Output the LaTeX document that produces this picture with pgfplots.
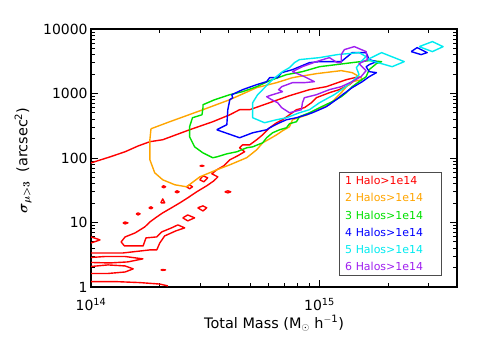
\documentclass[border=0pt]{standalone}
\usepackage{fontspec}
\setmainfont{DejaVu Sans}
\usepackage{amsmath}
\usepackage{pgfplots}
\pgfplotsset{compat=1.18}

\definecolor{cRed}{RGB}{255,0,0}
\definecolor{cOrange}{RGB}{255,165,0}
\definecolor{cGreen}{RGB}{0,225,0}
\definecolor{cBlue}{RGB}{0,0,255}
\definecolor{cCyan}{RGB}{0,235,240}
\definecolor{cPurple}{RGB}{160,32,240}

\begin{document}
\begin{tikzpicture}
\useasboundingbox (-91bp,-59bp) rectangle (394bp,287bp);
\begin{axis}[
  at={(0,0)}, anchor=south west,
  scale only axis, width=366bp, height=258bp,
  xmode=log, ymode=log,
  xmin=1e14, xmax=4e15, ymin=1, ymax=10000,
  xtick={1e14,1e15}, xticklabels={10\textsuperscript{14},10\textsuperscript{15}},
  minor xtick={2e14,3e14,4e14,5e14,6e14,7e14,8e14,9e14,2e15,3e15},
  ytick={1,10,100,1000,10000}, yticklabels={1,10,100,1000,10000},
  minor ytick={2,3,4,5,6,7,8,9,20,30,40,50,60,70,80,90,200,300,400,500,600,700,800,900,2000,3000,4000,5000,6000,7000,8000,9000},
  major tick length=7bp, minor tick length=4bp,
  tick style={black, line width=0.9pt},
  axis line style={line width=1.5pt},
  ticklabel style={font=\fontsize{14}{16}\selectfont},
  xticklabel style={yshift=-8bp},
  xlabel={Total Mass (M\textsubscript{$\odot$} h\textsuperscript{$-$1})},
  ylabel={$\boldsymbol{\sigma_{\mu>3}}$\ \ (arcsec\textsuperscript{2})},
  label style={font=\fontsize{14.5}{17}\selectfont},
  xlabel style={at={(axis description cs:0.5,0)}, anchor=base, yshift=-41bp},
  ylabel style={at={(axis description cs:0,0.49)}, anchor=center, yshift=68bp},
  every axis plot/.append style={line width=1.4pt, mark=none, line join=round},
]
% ---- 1 halo (red): main contour with the narrow band below it
\addplot[cRed] coordinates {
(1e14,84) (1.21e14,104) (1.41e14,125) (1.61e14,154) (1.81e14,179) (2.06e14,192) (2.70e14,274)
(3.41e14,365) (4.05e14,468) (4.47e14,561) (4.95e14,561) (6.05e14,720) (7.39e14,924) (9.04e14,1147)
(1.071e15,1276) (1.311e15,1639) (1.49e15,1825)
(1.35e15,1371) (1.22e15,1147) (1.105e15,1029) (9.69e14,861) (9.22e14,720) (8.59e14,603) (7.93e14,561)
(7.39e14,468) (6.89e14,392) (6.49e14,352) (6.05e14,294) (5.64e14,229) (5.31e14,192) (4.95e14,160)
(4.61e14,160) (4.47e14,144) (4.70e14,125) (4.38e14,108) (4.05e14,93.8) (3.81e14,75.6) (3.55e14,65.6)
(3.38e14,56.9) (3.59e14,50.9) (3.45e14,44.3) (3.21e14,37.1) (2.90e14,29.9) (2.65e14,24.1) (2.45e14,20.2)
(2.25e14,16.9) (2.06e14,14.1) (1.94e14,12.2) (1.81e14,10.2) (1.72e14,8.55) (1.56e14,6.90) (1.41e14,5.98)
(1.354e14,5.0) (1.40e14,4.33) (1.56e14,4.33) (1.69e14,4.33) (1.74e14,5.77) (1.94e14,5.98) (2.04e14,7.15)
(2.25e14,8.25) (2.40e14,9.18) (2.57e14,8.25) (2.35e14,7.41) (2.10e14,6.19) (2.0e14,4.82) (1.94e14,3.76)
(1.81e14,3.76) (1.38e14,3.37) (1e14,3.37)
};
% small red pieces near the left edge
\addplot[cRed] coordinates {(1e14,5.98) (1.062e14,5.57) (1.095e14,5.37) (1.031e14,5.0) (1e14,4.82)};
\addplot[cRed] coordinates {(1e14,2.87) (1.151e14,2.97) (1.41e14,2.97) (1.686e14,2.73) (1.45e14,2.45) (1.21e14,2.36) (1e14,2.40)};
\addplot[cRed] coordinates {(1e14,2.08) (1.186e14,2.20) (1.41e14,2.12) (1.53e14,1.91) (1.41e14,1.71) (1.186e14,1.62) (1e14,1.62)};
\addplot[cRed] coordinates {(1e14,1.21) (1.30e14,1.21) (1.64e14,1.17) (2.0e14,1.11) (2.17e14,1.04)};
% red islands
\addplot[cRed] coordinates {(2.99e14,45.9) (3.09e14,53) (3.24e14,49.3) (3.12e14,42.7) (2.99e14,45.9)};
\addplot[cRed] coordinates {(2.52e14,11.8) (2.65e14,13.1) (2.84e14,11.8) (2.65e14,10.6) (2.52e14,11.8)};
\addplot[cRed] coordinates {(2.93e14,16.9) (3.09e14,18.1) (3.21e14,16.9) (3.09e14,15.1) (2.93e14,16.9)};
\addplot[cRed] coordinates {(2.62e14,35.8) (2.70e14,38.4) (2.78e14,35.8) (2.70e14,33.3) (2.62e14,35.8)};
\addplot[cRed] coordinates {(3.85e14,29.9) (3.97e14,31) (4.09e14,29.9) (3.97e14,28.8) (3.85e14,29.9)};
\addplot[cRed] coordinates {(2.33e14,29.9) (2.38e14,31) (2.43e14,29.9) (2.38e14,28.8) (2.33e14,29.9)};
\addplot[cRed] coordinates {(2.02e14,20.2) (2.06e14,23.2) (2.10e14,20.2) (2.02e14,20.2)};
\addplot[cRed] coordinates {(1.79e14,16.9) (1.83e14,17.5) (1.86e14,16.9) (1.83e14,16.3) (1.79e14,16.9)};
\addplot[cRed] coordinates {(1.576e14,13.6) (1.607e14,14.1) (1.64e14,13.6) (1.607e14,13.1) (1.576e14,13.6)};
\addplot[cRed] coordinates {(1.38e14,9.86) (1.41e14,10.2) (1.45e14,9.86) (1.41e14,9.51) (1.38e14,9.86)};
\addplot[cRed] coordinates {(2.99e14,75.6) (3.06e14,77) (3.12e14,75.6) (3.06e14,74.3) (2.99e14,75.6)};
\addplot[cRed] coordinates {(2.04e14,35.8) (2.08e14,37.1) (2.12e14,35.8) (2.08e14,34.5) (2.04e14,35.8)};
\addplot[cRed] coordinates {(2.02e14,1.84) (2.06e14,1.87) (2.12e14,1.84) (2.06e14,1.81) (2.02e14,1.84)};
% ---- 2 halos (orange)
\addplot[cOrange] coordinates {
(1.83e14,284) (2.21e14,365) (3.09e14,561) (4.05e14,802) (5.31e14,1232) (6.49e14,1473) (7.62e14,1760)
(9.69e14,2031) (1.245e15,2262) (1.39e15,2105) (1.52e15,1760) (1.54e15,1639)
(1.39e15,1526) (1.311e15,1274) (1.245e15,1029) (1.184e15,861) (1.105e15,670) (9.69e14,561) (8.86e14,468)
(7.62e14,392) (7.39e14,305) (6.89e14,264) (6.49e14,229) (6.17e14,206) (5.64e14,172) (5.31e14,134)
(4.80e14,101) (4.05e14,78.4) (3.55e14,65.6) (2.99e14,50.9) (2.62e14,35.8) (2.33e14,38.4) (2.06e14,45.9)
(1.90e14,59) (1.81e14,93.8) (1.81e14,192) (1.83e14,284)
};
% ---- 3 halos (green)
\addplot[cGreen] coordinates {
(3.09e14,603) (3.09e14,670) (3.48e14,802) (4.05e14,958) (4.61e14,1068) (5.31e14,1274) (6.05e14,1581)
(7.17e14,1960) (8.42e14,2182) (1.0e15,2604) (1.184e15,2802) (1.39e15,3010) (1.65e15,3233) (1.87e15,3120)
(1.775e15,2904) (1.65e15,2344) (1.60e15,1822) (1.49e15,1526) (1.39e15,1274) (1.31e15,1029) (1.245e15,891)
(1.137e15,747) (1.0e15,603) (9.04e14,503) (8.17e14,436) (7.93e14,365) (7.39e14,340) (7.17e14,294)
(6.69e14,274) (6.23e14,246) (5.87e14,206) (5.64e14,172) (5.10e14,149) (4.80e14,144) (4.35e14,125)
(3.93e14,116) (3.55e14,104) (3.41e14,101) (3.09e14,120) (2.84e14,149) (2.70e14,213) (2.70e14,305)
(2.78e14,421) (3.06e14,468) (3.09e14,603)
};
% ---- 4 halos (blue)
\addplot[cBlue] coordinates {
(3.55e14,274) (3.93e14,328) (3.97e14,561) (4.05e14,802) (4.17e14,861) (4.13e14,958) (4.61e14,1147)
(5.31e14,1371) (5.87e14,1526) (6.05e14,1760) (6.56e14,1760) (6.83e14,2105) (7.62e14,2344) (9.04e14,3010)
(1.0e15,3120) (1.245e15,3120) (1.39e15,4303) (1.60e15,4303) (1.65e15,3351) (1.775e15,3120) (1.65e15,2802)
(1.60e15,2604) (1.65e15,2182) (1.775e15,2105) (1.65e15,1822) (1.54e15,1526) (1.39e15,1232) (1.26e15,958)
(1.184e15,802) (1.07e15,623) (9.31e14,503) (8.76e14,468) (7.93e14,421) (7.17e14,392) (6.69e14,352)
(6.05e14,294) (5.87e14,274) (5.10e14,246) (4.47e14,206) (3.55e14,274)
};
\addplot[cBlue] coordinates {(2.52e15,4461) (2.675e15,5146) (2.96e15,4303) (2.785e15,4006) (2.52e15,4461)};
% ---- 5 halos (cyan)
\addplot[cCyan] coordinates {
(5.10e14,720) (5.36e14,958) (5.75e14,1232) (6.23e14,1639) (6.89e14,2182) (7.39e14,2518) (7.77e14,3010)
(8.17e14,3351) (1.0e15,3599) (1.196e15,4006) (1.49e15,4303) (1.60e15,3730) (1.52e15,3120) (1.45e15,2518)
(1.49e15,1960) (1.42e15,1639) (1.285e15,1232) (1.16e15,958) (1.0e15,720) (9.04e14,561) (8.17e14,503)
(7.17e14,421) (6.49e14,392) (5.75e14,352) (5.10e14,421) (5.10e14,720)
};
\addplot[cCyan] coordinates {(1.62e15,3351) (1.87e15,4303) (2.35e15,3120) (2.08e15,2604) (1.62e15,3351)};
\addplot[cCyan] coordinates {(2.73e15,5323) (3.12e15,6378) (3.475e15,5323) (3.12e15,4461) (2.73e15,5323)};
% ---- 6 halos (purple)
\addplot[cPurple] coordinates {
(1.245e15,4006) (1.285e15,4791) (1.42e15,5333) (1.60e15,4460) (1.62e15,3351) (1.49e15,2904) (1.60e15,2262)
(1.52e15,1825) (1.39e15,1526) (1.245e15,1276) (1.105e15,1147) (9.69e14,958) (8.59e14,861) (8.42e14,720)
(8.34e14,561) (7.39e14,503) (6.83e14,603) (6.56e14,720) (6.17e14,802) (5.87e14,892) (6.23e14,958)
(6.89e14,1068) (6.62e14,1147) (6.83e14,1276) (7.62e14,1473) (8.59e14,1473) (9.50e14,1526) (8.59e14,1825)
(7.62e14,2182) (8.42e14,2609) (9.69e14,3120) (1.105e15,3599) (1.196e15,3010) (1.245e15,3010) (1.245e15,4006)
};
% ---- legend box
\node[draw=black!70, line width=0.9pt, fill=white, anchor=south west, inner xsep=5.5bp, inner ysep=0pt,
      text width=91bp, minimum height=103.5bp, align=left,
      font=\fontsize{11}{17.33}\selectfont] at (rel axis cs:0.678,0.043)
  {\textcolor{cRed}{1 Halo>1e14}\\
   \textcolor{cOrange}{2 Halos>1e14}\\
   \textcolor{cGreen}{3 Halos>1e14}\\
   \textcolor{cBlue}{4 Halos>1e14}\\
   \textcolor{cCyan}{5 Halos>1e14}\\
   \textcolor{cPurple}{6 Halos>1e14}};
\end{axis}
\end{tikzpicture}
\end{document}
